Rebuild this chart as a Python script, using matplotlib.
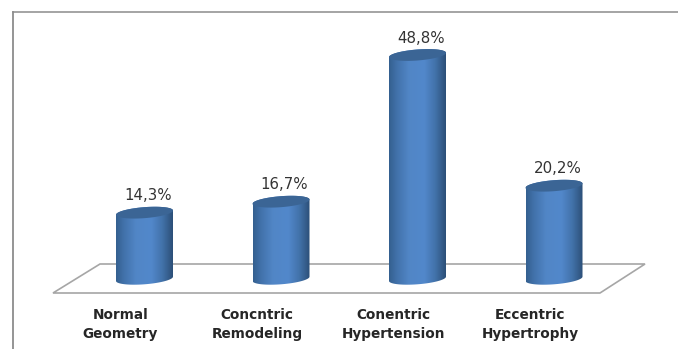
import numpy as np
import matplotlib
matplotlib.use("Agg")
from matplotlib import pyplot as plt
from matplotlib.patches import Polygon
from matplotlib.colors import LinearSegmentedColormap

categories = ["Normal\nGeometry", "Concntric\nRemodeling", "Conentric\nHypertension", "Eccentric\nHypertrophy"]
values = [14.3, 16.7, 48.8, 20.2]
value_labels = ["14,3%", "16,7%", "48,8%", "20,2%"]

W, H = 678, 349
fig = plt.figure(figsize=(W / 100, H / 100), dpi=100)
ax = fig.add_axes([0, 0, 1, 1])

# scale: bars 136.5 px apart, 4.57 px per percent, zero at y=278
px_x = 136.5
px_y = 4.57
x0 = 144.5
y0 = 278
ax.set_xlim(-x0 / px_x, (W - x0) / px_x)
ax.set_ylim(-(H - y0) / px_y, y0 / px_y)
ax.axis("off")


def to_data(px, py):
    return (px - x0) / px_x, (y0 - py) / px_y


# frame lines and the floor
grey = "#8c8c8c"
ax.plot(*zip(to_data(13, 11.5), to_data(13, H)), color=grey, lw=1.3, zorder=1)
ax.plot(*zip(to_data(12.5, 12), to_data(W, 12)), color=grey, lw=1.1, zorder=1)
floor = [to_data(53, 293), to_data(100, 264), to_data(645, 264), to_data(600, 293)]
ax.add_patch(Polygon(floor, closed=True, facecolor="white", edgecolor="#a6a6a6", lw=1.2, zorder=1))

cmap = LinearSegmentedColormap.from_list(
    "cyl", [(0, "#34608f"), (0.14, "#4272ab"), (0.35, "#5186c6"), (0.62, "#5288cb"),
            (0.82, "#4272a9"), (1, "#2c4f78")]
)
grad = np.linspace(0, 1, 128).reshape(1, -1)

half = 28.5 / px_x
tilt = -0.075  # ellipses lean up to the right
minor = 5.5 / px_y
t = np.linspace(0, 2 * np.pi, 90)

for i, v in enumerate(values):
    # body: bottom half of lower ellipse, then the far side of the top one
    tb = np.linspace(np.pi, 2 * np.pi, 45)
    xs = i + half * np.cos(tb)
    yb = minor * np.sin(tb) - tilt * half * px_x / px_y * np.cos(tb) - 0.8 / px_y
    xt = i + half * np.cos(tb[::-1])
    yt = v - minor * np.sin(tb[::-1]) - tilt * half * px_x / px_y * np.cos(tb[::-1])
    body = Polygon(np.column_stack([np.r_[xs, xt], np.r_[yb, yt]]), closed=True,
                   facecolor="none", edgecolor="none", transform=ax.transData)
    ax.add_patch(body)
    im = ax.imshow(grad, cmap=cmap, extent=(i - half, i + half, -5, v + 5),
                   aspect="auto", zorder=3, interpolation="bilinear")
    im.set_clip_path(body)

    top_x = i + half * np.cos(t)
    top_y = v + minor * np.sin(t) - tilt * half * px_x / px_y * np.cos(t)
    ax.fill(top_x, top_y, color="#3b6595", lw=0, zorder=4)

    ax.text(i + 3.5 / px_x, v + 16.8 / px_y, value_labels[i], ha="center", va="center",
            fontsize=10.8, color="#333333", zorder=5)
    ax.text(i - 24 / px_x, -46.5 / px_y, categories[i], ha="center", va="center",
            fontsize=9.8, fontweight="bold", color="#262626", linespacing=1.5, zorder=5)

ax.set_xlim(-x0 / px_x, (W - x0) / px_x)
ax.set_ylim(-(H - y0) / px_y, y0 / px_y)
fig.savefig("out.png", dpi=100)
